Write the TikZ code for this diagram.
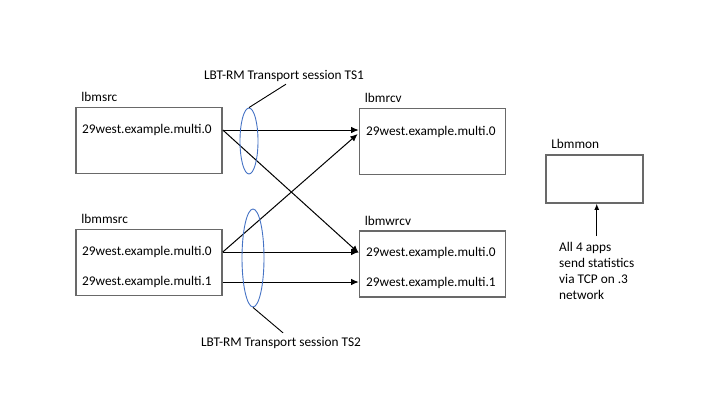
\documentclass[tikz,border=0pt]{standalone}
\usepackage{fontspec}
\setmainfont{Carlito}
\usepackage{tikz}
\usepackage{xcolor}
\usetikzlibrary{calc,shapes,arrows.meta,positioning}

\definecolor{boxgray}{RGB}{105,105,105}
\definecolor{tsblue}{RGB}{68,114,196}

\begin{document}
\begin{tikzpicture}[x=1pt, y=-1pt, font=\fontsize{13.3}{16}\selectfont,
  appbox/.style={draw=boxgray, line width=1.6pt, minimum width=146pt, minimum height=66pt, inner sep=0},
  topic/.style={anchor=west, inner sep=0},
  applbl/.style={anchor=base west, inner sep=0},
  flow/.style={line width=1pt, -{Latex[length=7.5pt,width=6.5pt]}},
  session/.style={ellipse, draw=tsblue, line width=0.9pt, inner sep=0}]
\useasboundingbox (0,0) rectangle (720,405);

% applications
\node[appbox] (src) at (149,140.5) {};
\node[appbox] (rcv) at (432.5,141.5) {};
\node[appbox] (msrc) at (149,262.5) {};
\node[appbox] (wrcv) at (432.5,264) {};
\node[appbox, minimum width=97pt, minimum height=48pt] (mon) at (594.5,179) {};

\node[applbl] (srclbl) at ($(src.north west)+(6,-5)$) {lbmsrc};
\node[applbl] (rcvlbl) at ($(rcv.north west)+(6,-5)$) {lbmrcv};
\node[applbl] (msrclbl) at ($(msrc.north west)+(6,-5)$) {lbmmsrc};
\node[applbl] (wrcvlbl) at ($(wrcv.north west)+(6,-5)$) {lbmwrcv};
\node[applbl] (monlbl) at ($(mon.north west)+(6,-6)$) {Lbmmon};

% topics
\node[topic] (srcA) at (82,130) {29west.example.multi.0};
\node[topic] (rcvA) at (366,132) {29west.example.multi.0};
\node[topic] (msrcA) at (82,252) {29west.example.multi.0};
\node[topic] (msrcB) at (82,282) {29west.example.multi.1};
\node[topic] (wrcvA) at (366,253) {29west.example.multi.0};
\node[topic] (wrcvB) at (366,283) {29west.example.multi.1};

\draw[flow] (src.east |- srcA) -- ($(rcv.west |- rcvA)+(0,-2)$);
\draw[flow] (src.east |- srcA) -- (wrcv.west |- wrcvA);
\draw[flow] (msrc.east |- msrcA) -- ($(rcv.west |- rcvA)+(-1,2)$);
\draw[flow] (msrc.east |- msrcA) -- ($(wrcv.west |- wrcvA)+(0,-1)$);
\draw[flow] (msrc.east |- msrcB) -- ($(wrcv.west |- wrcvB)+(0,-1)$);

% transport sessions
\node[session, minimum width=18pt, minimum height=66pt] (ts1) at (249,141) {};
\node[session, minimum width=22pt, minimum height=98pt] (ts2) at (253,258) {};
\node (ts1lbl) at (284,76) {LBT-RM Transport session TS1};
\node (ts2lbl) at (281,343) {LBT-RM Transport session TS2};
\draw[line width=0.9pt] (ts1.north) -- ($(ts1lbl.south)+(2,-1)$);
\draw[line width=0.9pt] (ts2.south) -- ($(ts2lbl.north)+(2,-1)$);

% statistics
\node[anchor=north west, align=left, inner sep=0] (note) at (559,242) {All 4 apps\\send statistics\\via TCP on .3\\network};
\draw[line width=1pt, -{Latex[length=6pt,width=5pt]}] ($(note.north)+(0,-6)$) -- (note.north |- mon.south);
\end{tikzpicture}
\end{document}
